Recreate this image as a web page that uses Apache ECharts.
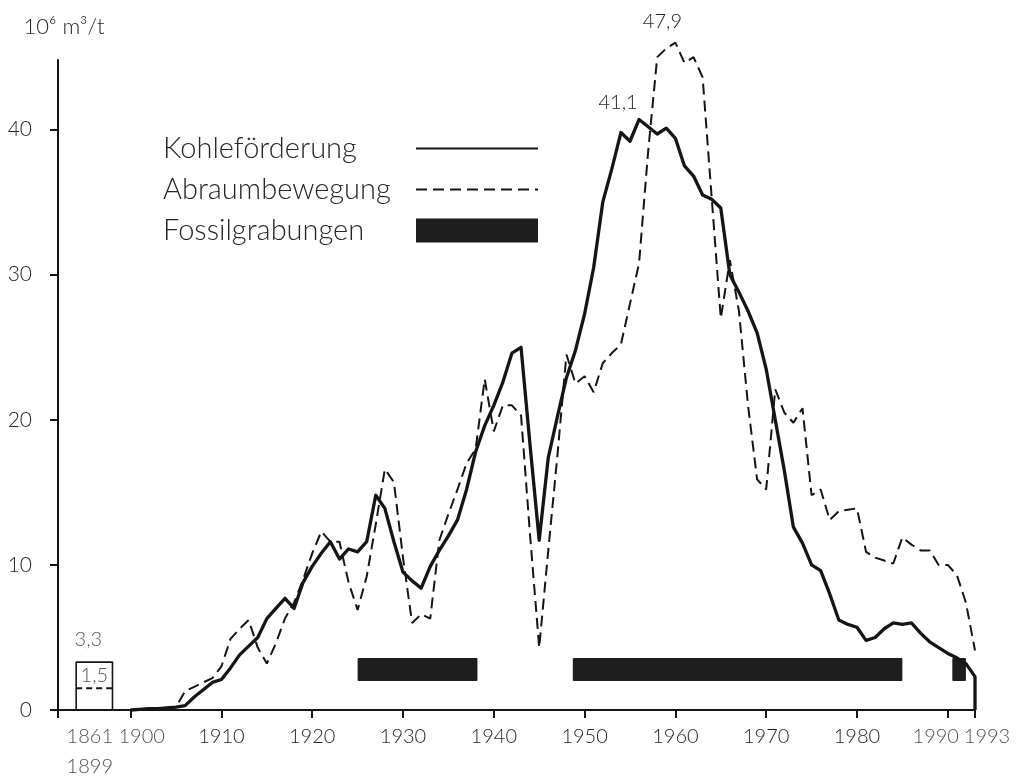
<!DOCTYPE html>
<html>
<head>
<meta charset="utf-8">
<title>Kohleförderung und Abraumbewegung</title>
<script src="https://cdn.jsdelivr.net/npm/echarts@6/dist/echarts.min.js"></script>
<style>
  html, body { margin: 0; padding: 0; background: #ffffff; }
  #chart { width: 1023px; height: 777px; }
</style>
</head>
<body>
<div id="chart"></div>
<script>
// Jahre 1900-1993 (Kohleförderung endet mit Abfall auf 0 im Jahr 1993)
const years = [
  1900, 1901, 1902, 1903, 1904, 1905, 1906, 1907, 1908, 1909,
  1910, 1911, 1912, 1913, 1914, 1915, 1916, 1917, 1918, 1919,
  1920, 1921, 1922, 1923, 1924, 1925, 1926, 1927, 1928, 1929,
  1930, 1931, 1932, 1933, 1934, 1935, 1936, 1937, 1938, 1939,
  1940, 1941, 1942, 1943, 1944, 1945, 1946, 1947, 1948, 1949,
  1950, 1951, 1952, 1953, 1954, 1955, 1956, 1957, 1958, 1959,
  1960, 1961, 1962, 1963, 1964, 1965, 1966, 1967, 1968, 1969,
  1970, 1971, 1972, 1973, 1974, 1975, 1976, 1977, 1978, 1979,
  1980, 1981, 1982, 1983, 1984, 1985, 1986, 1987, 1988, 1989,
  1990, 1991, 1992, 1993
];
// Kohleförderung (10^6 t)
const coalValues = [
  0, 0.05, 0.1, 0.1, 0.15, 0.2, 0.3, 0.9, 1.4, 1.9,
  2.1, 2.9, 3.8, 4.4, 5.0, 6.3, 7.0, 7.7, 7.0, 8.8,
  9.9, 10.8, 11.6, 10.4, 11.1, 10.9, 11.6, 14.8, 13.9, 11.6,
  9.5, 8.9, 8.4, 9.9, 11.0, 12.0, 13.1, 15.2, 17.8, 19.6,
  21.0, 22.6, 24.6, 25.0, 18.2, 11.7, 17.4, 20.2, 22.9, 24.8,
  27.3, 30.5, 35.0, 37.3, 39.8, 39.2, 40.7, 40.2, 39.7, 40.1,
  39.4, 37.5, 36.8, 35.5, 35.2, 34.6, 30.0, 28.8, 27.5, 26.0,
  23.5, 20.0, 16.5, 12.6, 11.5, 10.0, 9.6, 8.0, 6.2, 5.9,
  5.7, 4.8, 5.0, 5.6, 6.0, 5.9, 6.0, 5.3, 4.7, 4.3,
  3.9, 3.6, 3.2, 2.3
];
const coalEndValue = 0;
// Abraumbewegung (10^6 m³)
const spoilValues = [
  0, 0.05, 0.1, 0.1, 0.15, 0.2, 1.3, 1.6, 1.9, 2.2,
  3.0, 4.9, 5.6, 6.2, 4.3, 3.2, 4.6, 6.3, 7.4, 9.0,
  10.8, 12.3, 11.6, 11.6, 8.8, 6.9, 9.2, 12.8, 16.6, 15.7,
  10.5, 6.0, 6.6, 6.3, 11.7, 13.5, 15.2, 17.0, 18.0, 22.8,
  19.2, 21.0, 21.0, 20.3, 12.0, 4.3, 11.0, 17.5, 24.5, 22.5,
  23.0, 21.9, 23.9, 24.6, 25.2, 28.0, 30.8, 38.5, 45.0, 45.6,
  46.0, 44.6, 45.0, 43.6, 35.3, 27.0, 31.0, 27.5, 21.0, 15.9,
  15.2, 22.1, 20.5, 19.8, 20.8, 14.8, 15.2, 13.1, 13.7, 13.8,
  13.9, 10.9, 10.5, 10.3, 10.1, 11.9, 11.4, 11.0, 11.0, 10.0,
  10.0, 9.3, 7.4, 4.1
];
// Spitzenwerte (Beschriftung)
const coalPeakYear = 1956, coalPeakText = '41,1';
const spoilPeakYear = 1960, spoilPeakText = '47,9';

// Zeitraum 1861-1899 als gestauchter Block vor 1900
const preBlockFrom = 1894, preBlockTo = 1898;
const preCoal = 3.3, preSpoil = 1.5;

// Fossilgrabungen (von, bis)
const fossilFrom = [1925, 1948.7, 1990.5];
const fossilTo = [1938.2, 1985, 1992];
const fossilLevel = 2.8;

// Achsenbeschriftung
const xTickValues = [1892, 1900, 1910, 1920, 1930, 1940, 1950, 1960, 1970, 1980, 1990, 1993];
const xLabelValues = [1910, 1920, 1930, 1940, 1950, 1960, 1970, 1980];
const edgeLabelValues = [1895.5, 1900, 1990, 1993];
const edgeLabelTexts = ['1861\n1899', '1900', '1990', '1993'];
const yTickValues = [0, 10, 20, 30, 40];

const FONT = 'Lato, "Open Sans", sans-serif';
const INK = '#151515';
const TXT = '#262626';
// seitliche Verschiebung der gedrängten Randbeschriftungen (px)
const edgeLabelShift = [0, 11, -12, 12];

const chart = echarts.init(document.getElementById('chart'));

const coalData = years.map((y, i) => {
  const item = {value: [y, coalValues[i]]};
  if (y === coalPeakYear) {
    item.label = {show: true, position: 'top', formatter: coalPeakText, offset: [-21, -2]};
  }
  return item;
});
coalData.push({value: [years[years.length - 1], coalEndValue]});

const spoilData = years.map((y, i) => {
  const item = {value: [y, spoilValues[i]]};
  if (y === spoilPeakYear) {
    item.label = {show: true, position: 'top', formatter: spoilPeakText, offset: [-13, -6]};
  }
  return item;
});

const fossilData = fossilFrom.map((f, i) => [f, fossilTo[i], fossilLevel]);

const edgeLabelData = edgeLabelValues.map((v, i) => ({
  value: [v, 0],
  label: {formatter: edgeLabelTexts[i], offset: [edgeLabelShift[i], 0]}
}));

const tickFont = {fontFamily: FONT, fontWeight: 300, fontSize: 20, color: TXT};

const option = {
  animation: false,
  backgroundColor: '#ffffff',
  grid: {left: 58, right: 48, top: 60, bottom: 67, containLabel: false, outerBoundsMode: 'none'},
  legend: {
    orient: 'vertical',
    left: 158,
    top: 129,
    align: 'right',
    itemWidth: 122,
    itemHeight: 24,
    itemGap: 12,
    selectedMode: false,
    data: [
      {name: 'Kohleförderung', itemStyle: {opacity: 0}},
      {name: 'Abraumbewegung', itemStyle: {opacity: 0}},
      {name: 'Fossilgrabungen', icon: 'rect'}
    ],
    formatter: '{t|{name}}',
    textStyle: {
      fontFamily: FONT, fontWeight: 300, fontSize: 29, color: TXT,
      rich: {t: {width: 248, align: 'left', fontFamily: FONT, fontWeight: 300, fontSize: 29, color: TXT, lineHeight: 32}}
    }
  },
  xAxis: {
    type: 'value',
    min: 1892,
    max: 1993,
    axisLine: {show: true, lineStyle: {color: INK, width: 2}},
    axisTick: {show: true, length: 8, customValues: xTickValues, lineStyle: {color: INK, width: 2}},
    axisLabel: Object.assign({customValues: xLabelValues, margin: 17, formatter: v => String(v)}, tickFont),
    splitLine: {show: false}
  },
  yAxis: {
    type: 'value',
    min: 0,
    max: 44.8,
    interval: 10,
    name: '10⁶ m³/t',
    nameLocation: 'end',
    nameGap: 22,
    nameTextStyle: {fontFamily: FONT, fontWeight: 300, fontSize: 22, color: TXT, align: 'center', padding: [0, 0, 0, 12]},
    axisLine: {show: true, lineStyle: {color: INK, width: 2}},
    axisTick: {show: true, length: 8, customValues: yTickValues, lineStyle: {color: INK, width: 2}},
    axisLabel: Object.assign({customValues: yTickValues, margin: 26}, tickFont, {fontSize: 21}),
    splitLine: {show: false}
  },
  series: [
    {
      name: 'Kohleförderung',
      type: 'line',
      data: coalData,
      symbol: 'circle',
      symbolSize: 0,
      showSymbol: true,
      showAllSymbol: true,
      clip: false,
      z: 4,
      lineStyle: {color: INK, width: 3.3, join: 'round'},
      itemStyle: {color: INK},
      label: tickFont
    },
    {
      name: 'Abraumbewegung',
      type: 'line',
      data: spoilData,
      symbol: 'circle',
      symbolSize: 0,
      showSymbol: true,
      showAllSymbol: true,
      clip: false,
      z: 3,
      lineStyle: {color: INK, width: 2, type: [11, 6]},
      itemStyle: {color: INK},
      label: tickFont
    },
    {
      name: 'Fossilgrabungen',
      type: 'custom',
      data: fossilData,
      encode: {x: [0, 1], y: 2},
      itemStyle: {color: '#1e1e1e'},
      renderItem: function (params, api) {
        const a = api.coord([api.value(0), api.value(2)]);
        const b = api.coord([api.value(1), api.value(2)]);
        const h = 23;
        return {
          type: 'rect',
          shape: {x: a[0], y: a[1] - h / 2, width: b[0] - a[0], height: h, r: 1},
          style: {fill: '#1e1e1e'}
        };
      }
    },
    {
      name: 'Kohle 1861-1899',
      type: 'line',
      data: [[preBlockFrom, 0], [preBlockFrom, preCoal], [preBlockTo, preCoal], [preBlockTo, 0]],
      symbol: 'none',
      lineStyle: {color: INK, width: 1.6},
      silent: true
    },
    {
      name: 'Abraum 1861-1899',
      type: 'line',
      data: [[preBlockFrom, preSpoil], [preBlockTo, preSpoil]],
      symbol: 'none',
      lineStyle: {color: INK, width: 2, type: [6, 4]},
      silent: true
    },
    {
      name: 'Werte 1861-1899',
      type: 'scatter',
      symbol: 'circle',
      symbolSize: 0,
      silent: true,
      data: [
        {value: [(preBlockFrom + preBlockTo) / 2, preCoal], label: {formatter: '3,3', distance: 13, offset: [-6, 0]}},
        {value: [(preBlockFrom + preBlockTo) / 2, preSpoil], label: {formatter: '1,5', distance: 3}}
      ],
      label: Object.assign({show: true, position: 'top'}, tickFont)
    },
    {
      name: 'Randbeschriftung',
      type: 'scatter',
      symbol: 'circle',
      symbolSize: 0,
      silent: true,
      clip: false,
      data: edgeLabelData,
      label: Object.assign({show: true, position: 'bottom', distance: 12, lineHeight: 30, verticalAlign: 'top'}, tickFont)
    }
  ]
};

chart.setOption(option);
</script>
</body>
</html>
